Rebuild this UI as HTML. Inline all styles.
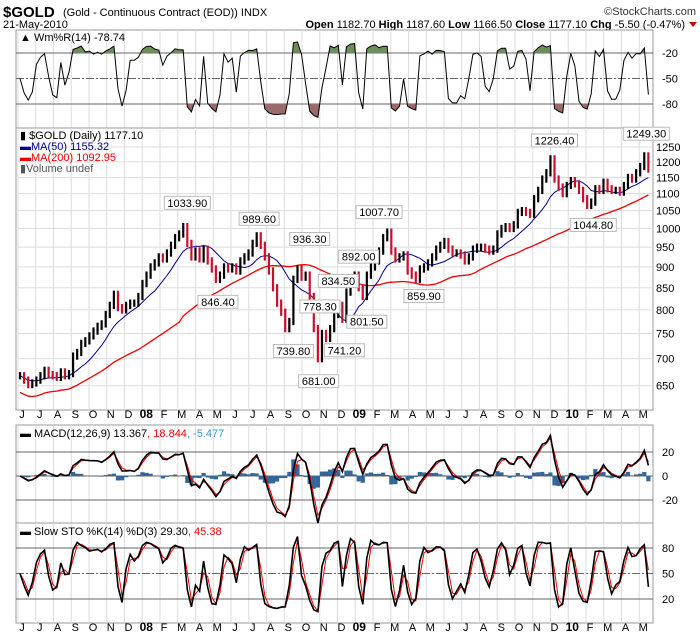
<!DOCTYPE html>
<html><head><meta charset="utf-8"><style>
body{margin:0;background:#fff;}
svg{display:block;font-family:"Liberation Sans",sans-serif;}
</style></head><body>
<svg id="c" width="700" height="639" viewBox="0 0 700 639" xmlns="http://www.w3.org/2000/svg">
<g>
<text x="3" y="17" font-size="15" font-weight="bold">$GOLD</text>
<text x="63" y="16" font-size="11">(Gold - Continuous Contract (EOD)) INDX</text>
<text x="696" y="15" font-size="11" text-anchor="end" fill="#333">©StockCharts.com</text>
<text x="3" y="28" font-size="11">21-May-2010</text>
<text x="685" y="28" font-size="11" text-anchor="end"><tspan font-weight="bold">Open</tspan> 1182.70 <tspan font-weight="bold">High</tspan> 1187.60 <tspan font-weight="bold">Low</tspan> 1166.50 <tspan font-weight="bold">Close</tspan> 1177.10 <tspan font-weight="bold">Chg</tspan> -5.50 (-0.47%)</text>
<path d="M689,22 L697,22 L693,27 Z" fill="#c00"/>
</g>
<g id="grid"></g>
<g id="marks"></g>
<g id="labels"></g>
</svg>
<script>
// Weekly closes, Jun 2007 - May 2010
const closes=[668,660,652,655, 660,668,678,670,668, 665,675,668,672, 705,712,730,735,
745,755,765,770,790, 810,835,805,800, 810,815,815,830,
860,880,900,910,925, 920,935,955,975, 985,1005,960,925, 940,920,945,915,895,
870,880,900,895, 900,890,915,925, 935,960,980,955,925, 890,850,815,795,
760,775,870,895, 875,880,830,760,700, 750,740,760,790, 810,780,840,870,
880,850,830,880,900, 915,940,975,990, 940,920,925,930, 890,880,870,895,900,
910,925,945,955, 965,945,935,935, 930,915,925,945,950, 950,945,940,945,
985,1000,1005,1000, 1010,1045,1050,1045,1040, 1085,1110,1145,1165, 1210,1145,1120,1100,
1125,1140,1130,1110,1085, 1065,1075,1115,1110, 1135,1115,1110,1110, 1105,1125,1150,1145,1165,
1185,1220,1177];
const monthLabels=["J","J","A","S","O","N","D","08","F","M","A","M","J","J","A","S","O","N","D","09","F","M","A","M","J","J","A","S","O","N","D","10","F","M","A","M"];
const priceTicks=[650,700,750,800,850,900,950,1000,1050,1100,1150,1200,1250];
const annValues=[1033.90,989.60,936.30,846.40,739.80,778.30,681.00,741.20,834.50,892.00,801.50,1007.70,859.90,1226.40,1044.80,1249.30];
const annWeeks=[41,58.6,71,48.5,67,73.5,73.2,79.5,78,83,85,88,99,131,140.5,153.5];
const annAbove=[1,1,1,0,0,1,0,0,1,1,0,1,0,1,0,1];
const wrTicks=[-20,-50,-80];
const macdTicks=[20,0,-20];
const stoTicks=[80,50,20];

const NS="http://www.w3.org/2000/svg";
const L=16,R=653;
const X=i=>18+(i+0.5)*4.08;
const MX=m=>18+m*17.75;
const Y=p=>385.7-365*Math.log(p/650);
const YW=v=>36+(-v)*0.85;
const YM=v=>476-v*1.2;
const YS=v=>616-v*0.85;
const G=document.getElementById('grid'),M=document.getElementById('marks'),LB=document.getElementById('labels');
function el(t,a,p){const e=document.createElementNS(NS,t);for(const k in a)e.setAttribute(k,a[k]);p.appendChild(e);return e;}
function txt(p,x,y,s,o){const e=el('text',Object.assign({x:x,y:y,'font-size':11},o||{}),p);e.textContent=s;return e;}

const panels=[[30,128],[128,410],[425,523],[523,623]];
panels.forEach(function(pn,k){
  const r=el('rect',{x:L,y:pn[0],width:R-L,height:pn[1]-pn[0],fill:'#fff',stroke:'#999'},G);
  
  
  for(let m=0;m<monthLabels.length;m++){const x=MX(m);
    const g=el('line',{x1:x,x2:x,y1:pn[0],y2:pn[1],stroke:'#ddd'},G);
    
    }
});
[418,631].forEach(function(yy){
  monthLabels.forEach(function(s,m){
    const t=txt(LB,MX(m)+4,yy,s,{'text-anchor':'middle','font-size':(s.length>1?12:11),'font-weight':(s.length>1?'bold':'normal')});
    
    
  });
});
priceTicks.forEach(function(p){const y=Y(p);
  const g=el('line',{x1:L,x2:R,y1:y,y2:y,stroke:'#ddd'},G);
  
  
  const t=txt(LB,656,y+4,String(p),{});
  
  
});
function hline(y,dash,lbl){const l=el('line',{x1:L,x2:R,y1:y,y2:y,stroke:'#666','stroke-dasharray':dash?'8,2,2,2':'none'},M);
  
  
  const t=txt(LB,662,y+4,lbl,{});
  
  }
wrTicks.forEach(v=>hline(YW(v),v===-50,String(v)));
macdTicks.forEach(v=>hline(YM(v),false,String(v)));
stoTicks.forEach(v=>hline(YS(v),v===50,String(v)));

function sma(n){return closes.map((c,i)=>{const s=closes.slice(Math.max(0,i-n+1),i+1);return s.reduce((a,b)=>a+b,0)/s.length;});}
function ema(arr,n){const k=2/(n+1);let e=arr[0];return arr.map(v=>(e=e+k*(v-e)));}
function path(vals,fx,fy){return vals.map((v,i)=>(i?'L':'M')+fx(i).toFixed(1)+','+fy(v).toFixed(1)).join('');}
const ma50=sma(10),ma200=sma(40).map((v,i)=>i<40?v*(0.955+0.001*i):v);
let p=el('path',{d:path(ma200,X,Y),fill:'none',stroke:'#e00','stroke-width':1.3},M);

p=el('path',{d:path(ma50,X,Y),fill:'none',stroke:'#00008b','stroke-width':1},M);

closes.forEach(function(c,i){const pr=i?closes[i-1]:c;const up=c>=pr;
  const hi=Math.max(c,pr)*1.01,lo=Math.min(c,pr)*0.99;
  const b=el('line',{x1:X(i),x2:X(i),y1:Y(hi),y2:Y(lo),stroke:up?'#000':'#c8102e','stroke-width':2.2},M);
  
  
});
annValues.forEach(function(v,i){const x=X(annWeeks[i]);const y=Y(v);const s=v.toFixed(2);
  const w=s.length*6+4;const by=annAbove[i]?y-20:y+6;
  const r=el('rect',{x:x-w/2,y:by,width:w,height:13,fill:'#fff',stroke:'#bbb'},LB);
  
  const t=txt(LB,x,by+10.5,s,{'text-anchor':'middle'});
  
});
// Williams %R
const wr=closes.map((c,i)=>{const s=closes.slice(Math.max(0,i-3),i+1);const h=Math.max(...s)*1.012,l=Math.min(...s)*0.988;return -100*(h-c)/(h-l);});
const wrc=wr.map(v=>Math.max(-97,Math.min(-3,v)));
const defs=el('defs',{},M);
const cg=el('clipPath',{id:'cg'},defs);el('rect',{x:L,y:30,width:R-L,height:YW(-20)-30},cg);
const cr=el('clipPath',{id:'cr'},defs);el('rect',{x:L,y:YW(-80),width:R-L,height:128-YW(-80)},cr);
p=el('path',{d:path(wrc,X,YW)+'L'+X(wrc.length-1)+','+YW(-20)+'L'+X(0)+','+YW(-20)+'Z',fill:'#6b8e5a',stroke:'none','clip-path':'url(#cg)'},M);

p=el('path',{d:path(wrc,X,YW)+'L'+X(wrc.length-1)+','+YW(-80)+'L'+X(0)+','+YW(-80)+'Z',fill:'#9c6a6a',stroke:'none','clip-path':'url(#cr)'},M);

p=el('path',{d:path(wrc,X,YW),fill:'none',stroke:'#000','stroke-width':1},M);

// MACD
const e12=ema(closes,2.4),e26=ema(closes,5.2);const macd=e12.map((v,i)=>(v-e26[i])*0.9);const sig=ema(macd,1.8);
macd.forEach(function(v,i){const h=(v-sig[i])*1.5;
  const r=el('rect',{x:X(i)-2.1,y:Math.min(YM(0),YM(h)),width:4.2,height:Math.abs(YM(h)-YM(0)),fill:'#336699'},M);
  });
p=el('path',{d:path(sig,X,YM),fill:'none',stroke:'#e00','stroke-width':1},M);

p=el('path',{d:path(macd,X,YM),fill:'none',stroke:'#000','stroke-width':1.6},M);

// Slow stochastic
const fk=closes.map((c,i)=>{const s=closes.slice(Math.max(0,i-2),i+1);const h=Math.max(...s)*1.01,l=Math.min(...s)*0.99;return 100*(c-l)/(h-l);});
const sk=fk.map((v,i)=>i?(v*0.75+fk[i-1]*0.25):v);const sd=sk.map((v,i)=>i?(v*0.6+sk[i-1]*0.4):v);
p=el('path',{d:path(sd,X,YS),fill:'none',stroke:'#e00','stroke-width':1},M);

p=el('path',{d:path(sk,X,YS),fill:'none',stroke:'#000','stroke-width':1.6},M);

function leg(x,y,parts,name){const t=el('text',{x:x,y:y,'font-size':11},LB);
  parts.forEach(q=>{const s=el('tspan',{fill:q[1]},t);s.textContent=q[0];});}
leg(20,41,[['▲ Wm%R(14) -78.74','#000']],'williams-r-legend');
leg(20,139,[['▮ $GOLD (Daily) 1177.10','#000']],'price-legend');
leg(20,150,[['▬','#00008b'],['MA(50) 1155.32','#00008b']],'ma50-legend');
leg(20,161,[['▬','#e00'],['MA(200) 1092.95','#e00']],'ma200-legend');
leg(20,172,[['▮Volume undef','#555']],'volume-legend');
leg(20,437,[['▬ MACD(12,26,9) 13.367','#000'],[', 18.844','#e00'],[', -5.477','#39c']],'macd-legend');
leg(20,535,[['▬ Slow STO %K(14) %D(3) 29.30','#000'],[', 45.38','#e00']],'sto-legend');
</script>
</body></html>
